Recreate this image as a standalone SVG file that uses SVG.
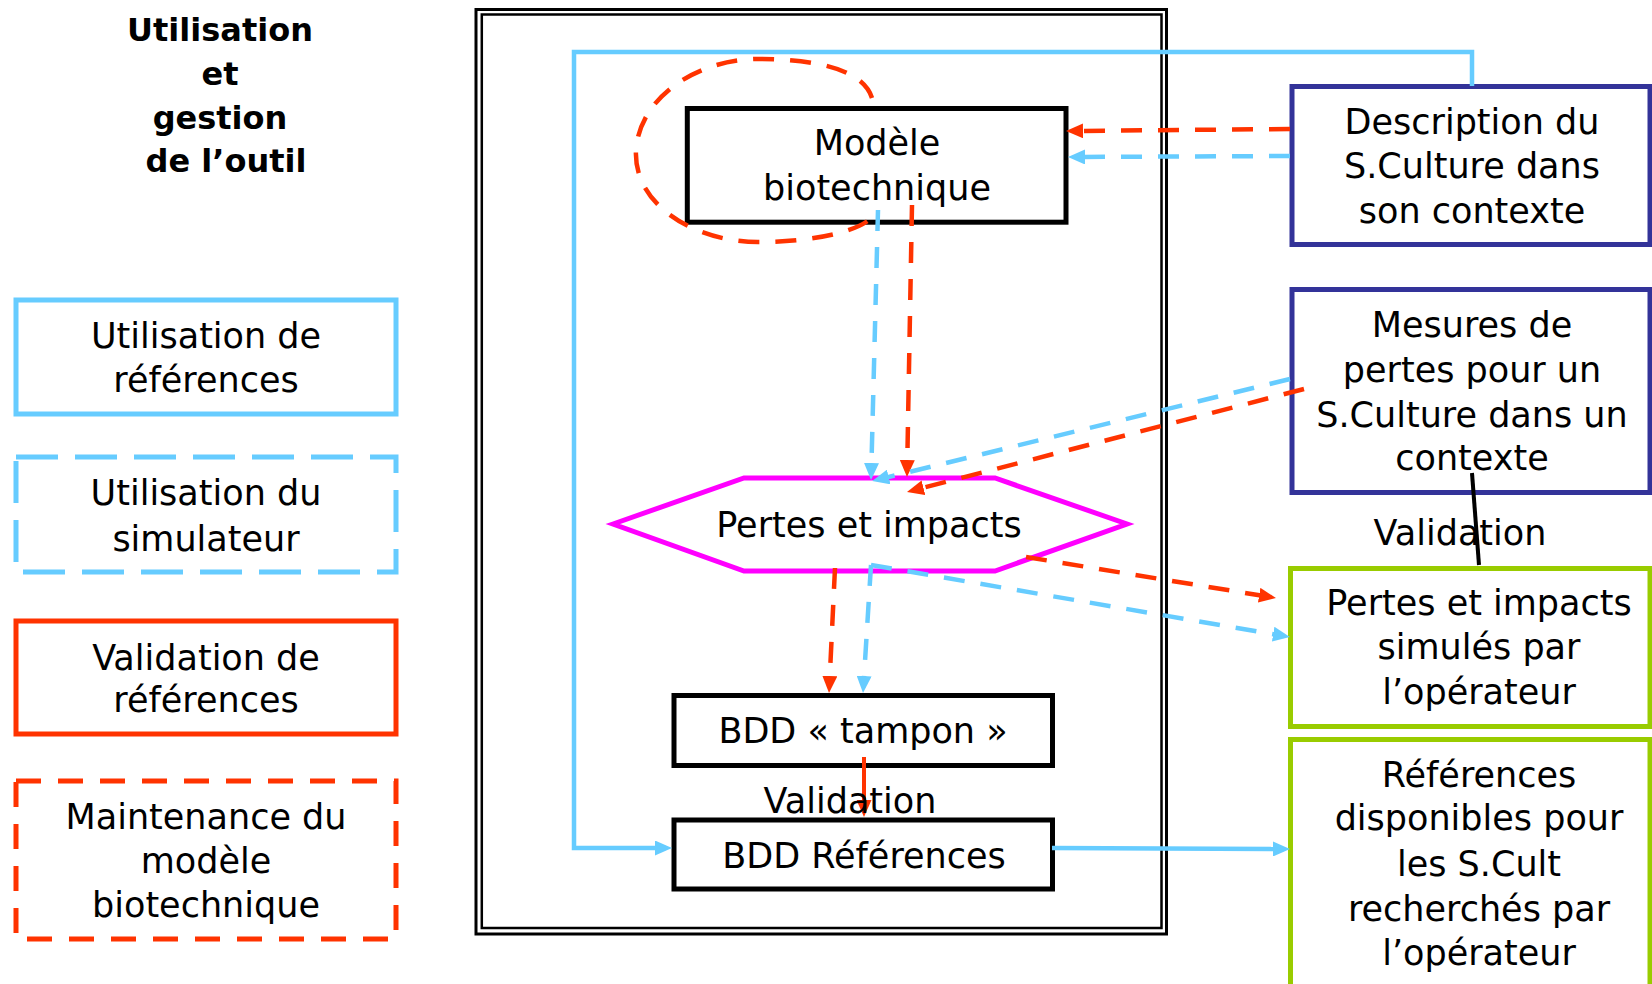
<svg xmlns="http://www.w3.org/2000/svg" width="1652" height="984" viewBox="0 0 1652 984">
<style>
text{font-family:"DejaVu Sans",sans-serif;font-size:35px;fill:#000;text-anchor:middle}
.title{font-weight:bold;font-size:32px}
.bx{fill:#fff;stroke:#000;stroke-width:5}
.nv{fill:#fff;stroke:#333399;stroke-width:5}
.gr{fill:#fff;stroke:#99cc00;stroke-width:5}
.bs{fill:none;stroke:#66ccff;stroke-width:4.5}
.bd{fill:none;stroke:#66ccff;stroke-width:4.5;stroke-dasharray:21 16}
.rs{fill:none;stroke:#ff3300;stroke-width:4}
.rd{fill:none;stroke:#ff3300;stroke-width:4.5;stroke-dasharray:21 16}
</style>
<defs>
<marker id="ab" markerUnits="userSpaceOnUse" markerWidth="17" markerHeight="15" viewBox="0 0 17 15" refX="11" refY="7.5" orient="auto"><path d="M0,0 L17,7.5 L0,15 z" fill="#66ccff"/></marker>
<marker id="ar" markerUnits="userSpaceOnUse" markerWidth="17" markerHeight="15" viewBox="0 0 17 15" refX="11" refY="7.5" orient="auto"><path d="M0,0 L17,7.5 L0,15 z" fill="#ff3300"/></marker>
</defs>
<rect width="1652" height="984" fill="#fff"/>

<g id="title">
<text class="title" x="220" y="41">Utilisation</text>
<text class="title" x="220" y="85">et</text>
<text class="title" x="220" y="129">gestion</text>
<text class="title" x="226" y="172">de  l’outil</text>
</g>

<g id="legend-ref">
<rect x="16" y="300" width="380" height="114" fill="#fff" stroke="#66ccff" stroke-width="5"/>
<text x="206" y="348">Utilisation de</text>
<text x="206" y="392">références</text>
</g>
<g id="legend-sim">
<rect x="16" y="457" width="380" height="115" fill="#fff" stroke="#66ccff" stroke-width="5" stroke-dasharray="42 17"/>
<text x="206" y="505">Utilisation du</text>
<text x="206" y="551">simulateur</text>
</g>
<g id="legend-val">
<rect x="16" y="621" width="380" height="113" fill="#fff" stroke="#ff3300" stroke-width="5"/>
<text x="206" y="670">Validation de</text>
<text x="206" y="712">références</text>
</g>
<g id="legend-maint">
<rect x="16" y="781" width="380" height="158" fill="#fff" stroke="#ff3300" stroke-width="5" stroke-dasharray="25 17"/>
<text x="206" y="829">Maintenance du</text>
<text x="206" y="873">modèle</text>
<text x="206" y="917">biotechnique</text>
</g>

<g id="frame">
<rect x="476" y="9.5" width="690.5" height="924.5" fill="none" stroke="#000" stroke-width="3"/>
<rect x="481.8" y="14.5" width="679.7" height="913.5" fill="none" stroke="#000" stroke-width="2.5"/>
</g>

<g id="modele">
<rect class="bx" x="687.3" y="108.5" width="378.7" height="113.7"/>
<text x="877" y="155">Modèle</text>
<text x="877" y="200">biotechnique</text>
</g>

<g id="pertes">
<polygon points="613,524 744,478 995,478 1127,524 995,571 744,571" fill="#fff" stroke="#ff00ff" stroke-width="5"/>
<text x="869" y="537">Pertes et impacts</text>
</g>

<g id="bdd-tampon">
<rect class="bx" x="674" y="695.5" width="378.5" height="70"/>
<text x="863" y="743">BDD « tampon »</text>
</g>

<g id="bdd-ref">
<rect class="bx" x="674" y="820" width="378.5" height="69"/>
<text x="864" y="868">BDD Références</text>
</g>

<g id="description">
<rect class="nv" x="1292" y="86.5" width="358" height="158"/>
<text x="1472" y="134">Description du</text>
<text x="1472" y="178">S.Culture dans</text>
<text x="1472" y="223">son contexte</text>
</g>

<g id="mesures">
<rect class="nv" x="1292" y="289.5" width="358" height="203"/>
<text x="1472" y="337">Mesures de</text>
<text x="1472" y="382">pertes pour un</text>
<text x="1472" y="427">S.Culture dans un</text>
<text x="1472" y="470">contexte</text>
</g>

<g id="simules">
<rect class="gr" x="1290.5" y="568.5" width="359.5" height="158"/>
<text x="1479" y="615">Pertes et impacts</text>
<text x="1479" y="659">simulés par</text>
<text x="1479" y="704">l’opérateur</text>
</g>

<g id="references">
<rect class="gr" x="1290.5" y="739.5" width="359.5" height="270"/>
<text x="1479" y="787">Références</text>
<text x="1479" y="830">disponibles pour</text>
<text x="1479" y="876">les S.Cult</text>
<text x="1479" y="921">recherchés par</text>
<text x="1479" y="965">l’opérateur</text>
</g>

<g id="connectors">
<path class="rd" d="M872,98 C862,66 805,59 758,59 C700,59 640,95 636,150 C633,205 695,242 758,242 C810,242 866,232 876,212"/>
<path class="bs" d="M1472,86 V52 H574 V848 H666" marker-end="url(#ab)"/>
<path class="bs" d="M1052,848 L1284,849" marker-end="url(#ab)"/>
<path class="rd" d="M1290,129 L1072,131" marker-end="url(#ar)"/>
<path class="bd" d="M1290,156 L1074,157" marker-end="url(#ab)"/>
<path class="bd" d="M878,210 L871.2,474" marker-end="url(#ab)"/>
<path class="rd" d="M912,205 L907.1,471" marker-end="url(#ar)"/>
<path class="bd" d="M1290,379 L878,479.6" marker-end="url(#ab)"/>
<path class="rd" d="M1304,389 L912.8,490.5" marker-end="url(#ar)"/>
<path class="rd" d="M835,568 L829.3,687" marker-end="url(#ar)"/>
<path class="bd" d="M871,565 L863.4,687" marker-end="url(#ab)"/>
<path class="bd" d="M871,565 L1284,636" marker-end="url(#ab)"/>
<path class="rd" d="M1026,557 L1270,597" marker-end="url(#ar)"/>
<path class="rs" d="M864,757 V811" marker-end="url(#ar)"/>
<path d="M1472,473 L1479,565" fill="none" stroke="#000" stroke-width="4"/>
<text x="850" y="813">Validation</text>
<text x="1460" y="545">Validation</text>
</g>
</svg>
